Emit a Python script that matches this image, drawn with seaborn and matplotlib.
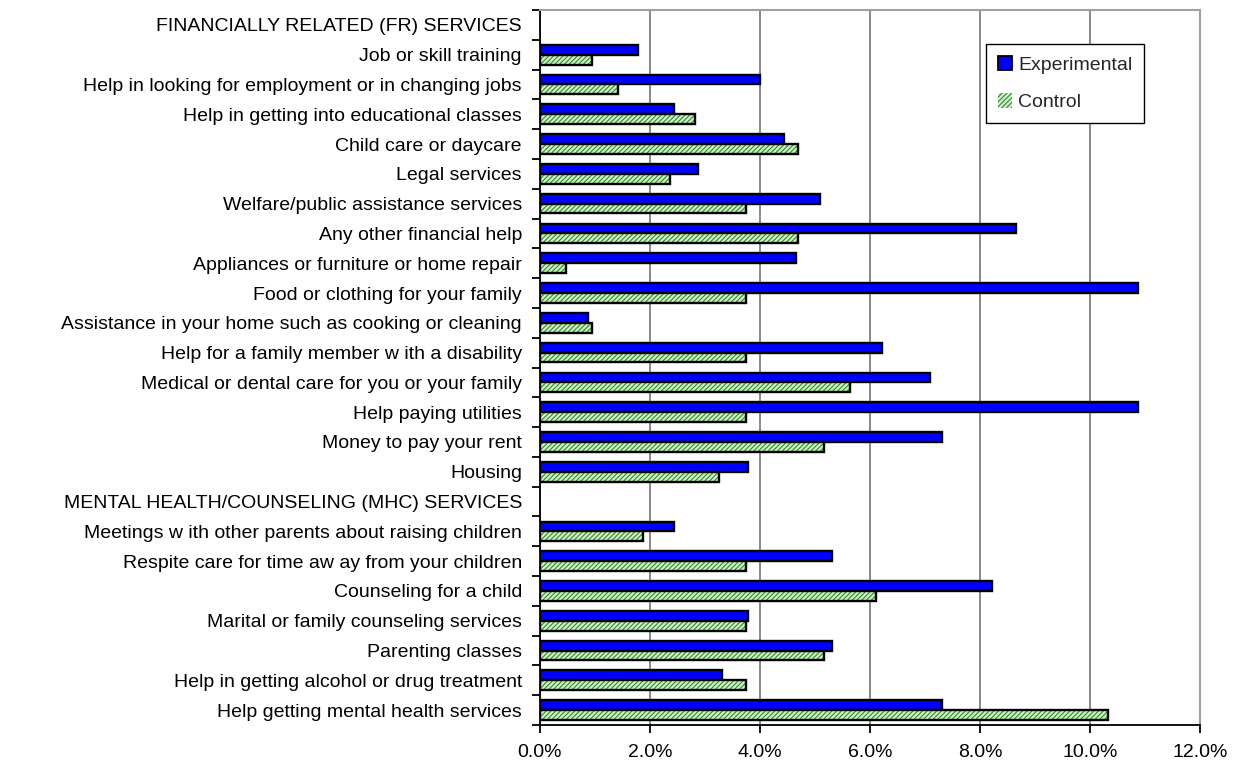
import numpy as np
import pandas as pd
import matplotlib
matplotlib.use("Agg")
import matplotlib.pyplot as plt
from matplotlib.patches import Rectangle, Patch
from matplotlib.ticker import PercentFormatter, MultipleLocator, FixedLocator
import seaborn as sns

categories = [
    "FINANCIALLY RELATED (FR) SERVICES",
    "Job or skill training",
    "Help in looking for employment or in changing jobs",
    "Help in getting into educational classes",
    "Child care or daycare",
    "Legal services",
    "Welfare/public assistance services",
    "Any other financial help",
    "Appliances or furniture or home repair",
    "Food or clothing for your family",
    "Assistance in your home such as cooking or cleaning",
    "Help for a family member w ith a disability",
    "Medical or dental care for you or your family",
    "Help paying utilities",
    "Money to pay your rent",
    "Housing",
    "MENTAL HEALTH/COUNSELING (MHC) SERVICES",
    "Meetings w ith other parents about raising children",
    "Respite care for time aw ay from your children",
    "Counseling for a child",
    "Marital or family counseling services",
    "Parenting classes",
    "Help in getting alcohol or drug treatment",
    "Help getting mental health services",
]

experimental = [np.nan, 1.79, 4.00, 2.44, 4.44, 2.88, 5.09, 8.66, 4.65, 10.87, 0.88,
                6.22, 7.09, 10.87, 7.31, 3.78, np.nan, 2.44, 5.31, 8.22, 3.78, 5.31,
                3.31, 7.31]
control = [np.nan, 0.95, 1.42, 2.81, 4.70, 2.36, 3.75, 4.70, 0.47, 3.75, 0.95,
           3.75, 5.64, 3.75, 5.16, 3.26, np.nan, 1.88, 3.75, 6.11, 3.75, 5.16,
           3.75, 10.32]
groups = ["Experimental", "Control"]
xticks = [0, 2, 4, 6, 8, 10, 12]

df = pd.concat([
    pd.DataFrame({"category": categories, "group": groups[0], "value": experimental}),
    pd.DataFrame({"category": categories, "group": groups[1], "value": control}),
]).dropna()

sns.set_style("white")
plt.rcParams["font.family"] = ["Liberation Sans", "DejaVu Sans"]
plt.rcParams["hatch.linewidth"] = 0.8

fig = plt.figure(figsize=(12.38, 7.71), dpi=100)
ax = fig.add_axes([540 / 1238, 1 - 725 / 771, 660 / 1238, 715 / 771])

exp_color = "#0000ff"
ctrl_face = "#d2f0c8"
ctrl_hatch = "#2a8a2a"
fs = 14

sns.barplot(data=df, y="category", x="value", hue="group", order=categories,
            hue_order=groups, orient="h", width=0.66, gap=0,
            palette={groups[0]: exp_color, groups[1]: ctrl_face},
            edgecolor="black", linewidth=1.7, saturation=1, legend=False,
            ax=ax, zorder=3)

# Hatch the control bars (hatch colour follows edgecolor, so add outlines separately)
for p in ax.containers[1]:
    p.set_hatch("///////")
    p.set_edgecolor(ctrl_hatch)
    p.set_linewidth(0)
    ax.add_patch(Rectangle(p.get_xy(), p.get_width(), p.get_height(), fill=False,
                           edgecolor="black", linewidth=1.7, zorder=4))

ax.set_xlim(xticks[0], xticks[-1])
ax.set_ylim(len(categories) - 0.5, -0.5)
ax.xaxis.set_major_locator(FixedLocator(xticks))
ax.xaxis.set_major_formatter(PercentFormatter(xmax=100, decimals=1))
ax.set_xlabel("")
ax.set_ylabel("")

ax.grid(axis="x", color="#808080", linewidth=1.3, zorder=0)
ax.grid(axis="y", visible=False)
ax.set_axisbelow(True)

# spines
ax.spines["left"].set_color("black")
ax.spines["bottom"].set_color("black")
ax.spines["left"].set_linewidth(1.3)
ax.spines["bottom"].set_linewidth(1.3)
ax.spines["top"].set_color("#a0a0a0")
ax.spines["right"].set_color("#a0a0a0")
ax.spines["top"].set_linewidth(1.5)
ax.spines["right"].set_linewidth(1.5)

# ticks
ax.tick_params(axis="y", which="major", length=0, pad=13, labelsize=fs, labelcolor="black")
ax.yaxis.set_minor_locator(MultipleLocator(1, offset=0.5))
ax.tick_params(axis="y", which="minor", left=True, length=6, width=1.3, direction="out", color="black")
ax.tick_params(axis="x", which="major", bottom=True, length=6, width=1.3, direction="out",
               color="black", pad=8, labelsize=fs, labelcolor="black")

handles = [Patch(facecolor=exp_color, edgecolor="black", linewidth=1.3),
           Patch(facecolor=ctrl_face, edgecolor=ctrl_hatch, hatch="///////", linewidth=0)]
leg = ax.legend(handles, groups, loc="upper right", bbox_to_anchor=(0.915, 0.952),
                frameon=True, fancybox=False, framealpha=1, edgecolor="black",
                fontsize=fs, handlelength=0.75, handleheight=0.75, handletextpad=0.3,
                borderpad=0.6, labelspacing=1.0, borderaxespad=0)
leg.get_frame().set_linewidth(1.0)

fig.savefig("out.png", dpi=100)
